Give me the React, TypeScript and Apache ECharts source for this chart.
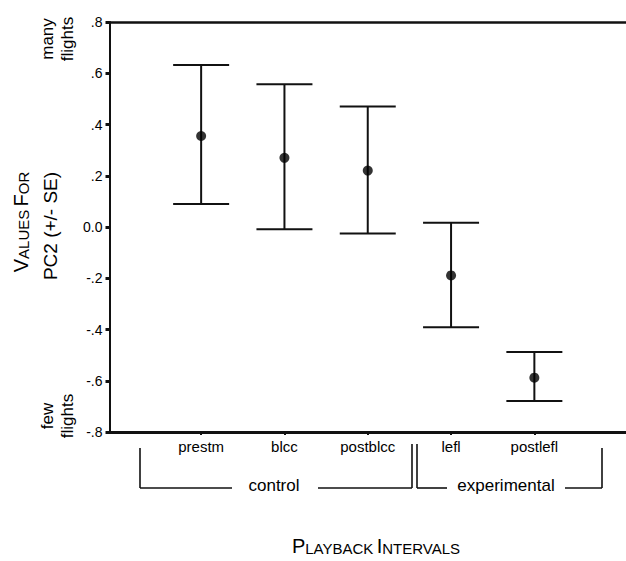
import React, { useEffect, useRef } from "react";
import * as echarts from "echarts";

const categories = ["prestm", "blcc", "postblcc", "lefl", "postlefl"];
const positions = [1, 2, 3, 4, 5];
const means = [0.355, 0.27, 0.22, -0.189, -0.588];
const upper = [0.632, 0.557, 0.47, 0.017, -0.488];
const lower = [0.09, -0.009, -0.025, -0.391, -0.679];
const yTicks = [-0.8, -0.6, -0.4, -0.2, 0, 0.2, 0.4, 0.6, 0.8];

const FONT = "Liberation Sans, Arial, Helvetica, sans-serif";
const INK = "#111";

function fmtY(v: number): string {
  if (Math.abs(v) < 1e-9) return "0.0";
  const s = Math.abs(v).toFixed(1).replace(/^0/, "");
  return (v < 0 ? "-" : "") + s;
}

export default function App() {
  const ref = useRef<HTMLDivElement>(null);
  useEffect(() => {
    if (!ref.current) return;
    const chart = echarts.init(ref.current, null, { renderer: "svg" });
    const errData = positions.map((p, i) => [p, lower[i], upper[i]]);
    const dotData = positions.map((p, i) => [p, means[i]]);
    const line = (x1: number, y1: number, x2: number, y2: number) => ({
      type: "line",
      shape: { x1, y1, x2, y2 },
      style: { stroke: INK, lineWidth: 1.6 },
      silent: true,
    });
    const rot = (x: number, y: number, text: string, size: number) => ({
      type: "text",
      x,
      y,
      rotation: Math.PI / 2,
      style: {
        text,
        font: `${size}px ${FONT}`,
        fill: "#000",
        textAlign: "center",
        textVerticalAlign: "middle",
      },
      silent: true,
    });
    const smallCaps = (x: number, y: number, text: string, rotation: number) => ({
      type: "text",
      x,
      y,
      rotation,
      style: {
        text,
        fill: "#000",
        textAlign: "center",
        textVerticalAlign: "middle",
        rich: {
          a: { fontSize: 20, fontFamily: FONT, fill: "#000", verticalAlign: "bottom", lineHeight: 20 },
          b: { fontSize: 15, fontFamily: FONT, fill: "#000", verticalAlign: "bottom", lineHeight: 20 },
        },
      },
      silent: true,
    });
    chart.setOption({
      animation: false,
      grid: { left: 109.5, right: 0, top: 22, bottom: 129, containLabel: false },
      xAxis: [
        {
          type: "value",
          min: -0.1,
          max: 6.1,
          splitLine: { show: false },
          axisLine: { show: true, onZero: false, lineStyle: { color: INK, width: 3 } },
          axisTick: {
            show: true,
            customValues: positions,
            length: 3,
            inside: false,
            lineStyle: { color: INK, width: 2 },
          },
          axisLabel: {
            show: true,
            customValues: positions,
            formatter: (v: number) => categories[Math.round(v) - 1] ?? "",
            fontFamily: FONT,
            fontSize: 15,
            color: "#000",
            margin: 7,
          },
        },
        {
          type: "value",
          position: "top",
          min: -0.1,
          max: 6.1,
          splitLine: { show: false },
          axisLine: { show: true, onZero: false, lineStyle: { color: INK, width: 2.5 } },
          axisTick: { show: false },
          axisLabel: { show: false },
        },
      ],
      yAxis: {
        type: "value",
        min: yTicks[0],
        max: yTicks[yTicks.length - 1],
        interval: 0.2,
        splitLine: { show: false },
        axisLine: { show: true, onZero: false, lineStyle: { color: INK, width: 2 } },
        axisTick: { show: true, length: 4, lineStyle: { color: INK, width: 3 } },
        axisLabel: {
          formatter: (v: number) => fmtY(v),
          fontFamily: FONT,
          fontSize: 14,
          color: "#000",
          margin: 7,
        },
      },
      series: [
        {
          type: "custom",
          data: errData,
          encode: { x: 0, y: [1, 2] },
          renderItem: (params: any, api: any) => {
            const x = api.value(0);
            const lo = api.coord([x, api.value(1)]);
            const hi = api.coord([x, api.value(2)]);
            const hw = 28;
            const st = { stroke: INK, lineWidth: 2 };
            return {
              type: "group",
              children: [
                { type: "line", shape: { x1: lo[0], y1: lo[1], x2: hi[0], y2: hi[1] }, style: st },
                { type: "line", shape: { x1: hi[0] - hw, y1: hi[1], x2: hi[0] + hw, y2: hi[1] }, style: st },
                { type: "line", shape: { x1: lo[0] - hw, y1: lo[1], x2: lo[0] + hw, y2: lo[1] }, style: st },
              ],
            };
          },
        },
        {
          type: "scatter",
          data: dotData,
          symbol: "circle",
          symbolSize: 10,
          itemStyle: { color: "#000" },
        },
      ],
      graphic: [
        rot(47, 39, "many", 17),
        rot(67, 39, "flights", 17),
        rot(47, 416, "few", 17),
        rot(67, 416, "flights", 17),
        smallCaps(21, 222, "{a|V}{b|ALUES} {a|F}{b|OR}", Math.PI / 2),
        rot(50, 226, "PC2 (+/- SE)", 19),
        smallCaps(376, 546, "{a|P}{b|LAYBACK} {a|I}{b|NTERVALS}", 0),
        line(140, 448, 140, 488),
        line(140, 488, 232, 488),
        {
          type: "text",
          x: 274,
          y: 485,
          style: { text: "control", font: `17px ${FONT}`, fill: "#000", textAlign: "center", textVerticalAlign: "middle" },
          silent: true,
        },
        line(318, 488, 412, 488),
        line(412, 444, 412, 488),
        line(417, 444, 417, 488),
        line(417, 488, 447, 488),
        {
          type: "text",
          x: 506,
          y: 485,
          style: { text: "experimental", font: `17px ${FONT}`, fill: "#000", textAlign: "center", textVerticalAlign: "middle" },
          silent: true,
        },
        line(565, 488, 602, 488),
        line(602, 448, 602, 488),
      ],
    });
    return () => chart.dispose();
  }, []);
  return <div ref={ref} style={{ width: 626, height: 561, position: "absolute", left: 0, top: 0 }} />;
}
